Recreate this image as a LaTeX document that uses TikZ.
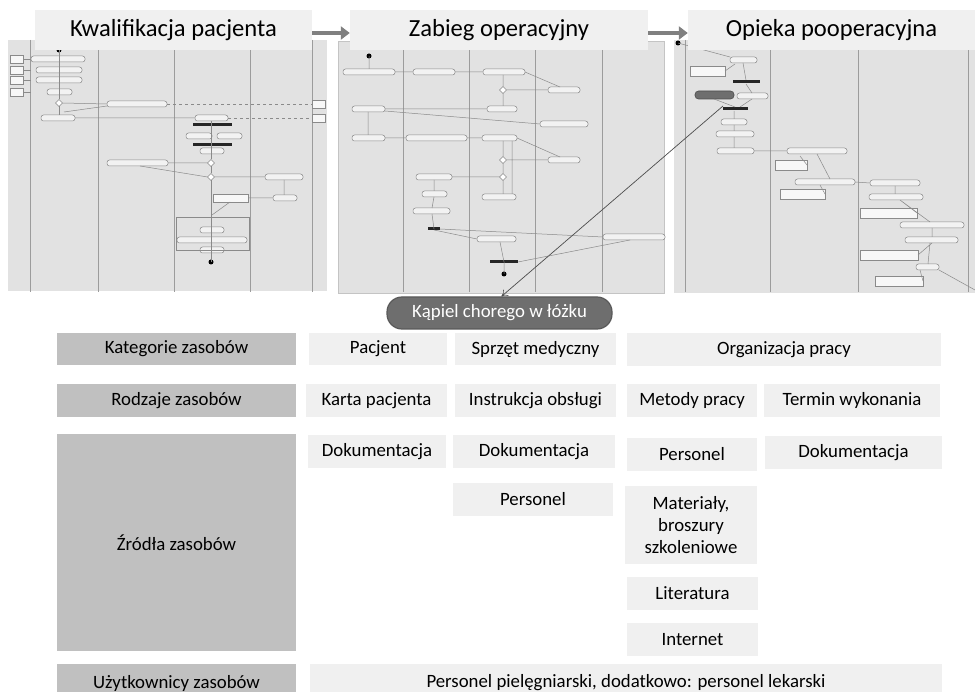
\documentclass[tikz,border=0pt]{standalone}
\usepackage{fontspec}
\setmainfont{Carlito}
\usetikzlibrary{arrows.meta}

\definecolor{hdrgray}{HTML}{C0C0C0}
\definecolor{cellgray}{HTML}{F0F0F0}
\definecolor{shotbg}{HTML}{E2E2E2}
\definecolor{lanegray}{HTML}{9C9C9C}
\definecolor{flowgray}{HTML}{8A8A8A}
\definecolor{pillgray}{HTML}{6E6E6E}
\definecolor{arrgray}{HTML}{808080}

\begin{document}
\begin{tikzpicture}[
    x=1pt, y=-1pt,
    every node/.style={font=\fontsize{18.8}{22}\selectfont},
    >=Stealth,
    hdr/.style={fill=hdrgray, inner sep=0pt, align=center},
    cell/.style={fill=cellgray, inner sep=0pt, align=center},
    title/.style={fill=cellgray, inner sep=0pt, minimum height=40pt,
        font=\fontsize{24.6}{28}\selectfont},
    act/.style={draw=flowgray, fill=gray!10, line width=0.5pt, rounded corners=2.5pt},
    note/.style={draw=flowgray, fill=gray!6, line width=0.5pt},
    flow/.style={draw=flowgray, line width=0.5pt},
]
\useasboundingbox (0,0) rectangle (975,692);

% === Screenshot panels (activity diagrams) ===
\fill[shotbg] (8,40) rectangle (327,291);
\fill[shotbg] (338,41) rectangle (664,293);
\fill[shotbg] (674,40) rectangle (975,293);
\draw[lanegray!60, line width=0.4pt] (338,41) rectangle (664,293);

% swimlane separators
\foreach \x in {30,98,174,250,312,403,469,535,602,685,770,858,968}
    \draw[lanegray, line width=0.8pt] (\x,40) -- (\x,292);

% --- Panel 1 ---
\foreach \a/\b/\y in {31/85/59, 36/82/70, 36/82/80, 47/72/92, 41/75/118,
        107/167/104, 195/228/118, 186/212/136, 217/242/136, 200/224/151,
        107/168/163, 265/303/177, 273/297/198, 200/224/230, 177/247/240,
        200/224/250}
    \draw[act] (\a,\y-3) rectangle (\b,\y+3);
\foreach \a/\b/\y in {10/23/59, 10/23/70, 10/23/80, 10/23/92, 312/325/104,
        312/325/118, 213/248/198}
    \draw[note] (\a,\y-4) rectangle (\b,\y+4);
\draw[flow] (176,217) rectangle (249,250);
\foreach \a/\b/\y in {193/232/125, 193/232/145}
    \fill[black!85] (\a,\y-1.5) rectangle (\b,\y+1.5);
\foreach \x/\y in {59/103, 211/163, 211/177}
    \draw[flow, fill=white] (\x,\y-3.5) -- (\x+3.5,\y) -- (\x,\y+3.5) -- (\x-3.5,\y) -- cycle;
\fill (59,50) circle (2.5pt);
\fill (211,262) circle (2.5pt);
\draw[flow] (59,50) -- (59,99.5) (59,106.5) -- (59,115);
\foreach \y in {59,70,80,92} \draw[flow] (23,\y) -- (31,\y);
\draw[flow] (62.5,103) -- (107,104) (75,118) -- (195,118) (64,112) -- (107,106);
\draw[flow, dashed] (167,104) -- (312,104) (228,118) -- (312,118);
\draw[flow] (211,121) -- (211,159.5) (211,166.5) -- (211,173.5) (211,180.5) -- (211,262);
\draw[flow] (168,163) -- (207.5,163) (140,166) -- (207.5,177) (214.5,177) -- (265,177);
\draw[flow] (284,180) -- (284,195) (273,198) -- (248,198) (230,202) -- (212,215);

% --- Panel 2 ---
\foreach \a/\b/\y in {343/395/72, 413/455/72, 483/525/72, 548/580/90, 487/517/109,
        352/385/109, 540/588/124, 352/385/138, 406/467/138, 482/517/138,
        548/580/160, 416/452/177, 422/447/194, 482/516/197, 413/450/211,
        477/516/239, 603/665/237}
    \draw[act] (\a,\y-3) rectangle (\b,\y+3);
\foreach \a/\b/\y in {428/440/229, 490/518/262}
    \fill[black!85] (\a,\y-1.5) rectangle (\b,\y+1.5);
\foreach \x/\y in {503/90, 503/160, 503/177}
    \draw[flow, fill=white] (\x,\y-3.5) -- (\x+3.5,\y) -- (\x,\y+3.5) -- (\x-3.5,\y) -- cycle;
\fill (369,56) circle (2.5pt);
\fill (504,274) circle (2.5pt);
\draw[flow] (369,56) -- (369,69) (395,72) -- (413,72) (455,72) -- (483,72)
    (503,75) -- (503,86.5) (506.5,90) -- (548,90) (525,72) -- (560,87)
    (503,93.5) -- (503,106) (487,109) -- (385,109) (368,112) -- (368,135)
    (385,111) -- (540,124) (385,138) -- (406,138) (467,138) -- (482,138)
    (503,141) -- (503,156.5) (506.5,160) -- (548,160) (517,138) -- (560,157)
    (499.5,177) -- (452,177) (503,163.5) -- (503,173.5) (434,180) -- (434,191)
    (434,197) -- (432,208) (432,214) -- (434,229) (503,180.5) -- (503,194)
    (512,194) -- (512,141) (434,230) -- (477,239) (440,229) -- (603,237)
    (500,242) -- (504,262) (630,240) -- (518,262) (504,262) -- (504,274);

% --- Panel 3 ---
\foreach \a/\b/\y in {730/757/60, 737/768/96, 721/747/122, 716/754/134, 717/754/151,
        787/847/151, 795/855/182, 870/920/183, 869/923/197, 900/964/225,
        905/958/240, 916/939/267}
    \draw[act] (\a,\y-3) rectangle (\b,\y+3);
\foreach \a/\b/\y in {690/725/71, 775/807/165, 780/825/194, 860/917/213,
        860/918/255, 875/923/281}
    \draw[note] (\a,\y-5) rectangle (\b,\y+5);
\foreach \a/\b/\y in {733/760/82, 723/748/109}
    \fill[black!85] (\a,\y-1.5) rectangle (\b,\y+1.5);
\draw[fill=pillgray, draw=black!70, line width=0.6pt, rounded corners=3.5pt]
    (695,91) rectangle (734,99);
\fill (678,43) circle (2.5pt);
\draw[flow] (678,43) -- (730,57) (743,63) -- (746,80) (725,71) -- (735,64)
    (746,84) -- (752,93) (714,99) -- (735,107) (752,99) -- (740,107)
    (734,111) -- (734,119) (734,125) -- (734,131) (734,137) -- (734,148)
    (754,151) -- (787,151) (817,154) -- (830,179) (807,165) -- (800,156)
    (855,182) -- (870,183) (825,194) -- (820,185) (895,186) -- (895,194)
    (900,200) -- (930,222) (917,213) -- (900,200) (932,228) -- (932,237)
    (918,255) -- (932,243) (930,243) -- (928,264) (939,270) -- (975,290)
    (923,281) -- (920,270);

% === Stage titles ===
\node[title, minimum width=277pt] (kwal) at (173.5,30) {Kwalifikacja pacjenta};
\node[title, minimum width=298pt] (zabieg) at (499,30) {Zabieg operacyjny};
\node[title, minimum width=287pt] (opieka) at (831.5,30) {Opieka pooperacyjna};
\draw[arrgray, line width=4pt, -{Triangle[length=9pt, width=13pt]}]
    ([yshift=-3pt]kwal.east) -- ([yshift=-3pt]zabieg.west);
\draw[arrgray, line width=4pt, -{Triangle[length=9pt, width=13pt]}]
    ([yshift=-3pt]zabieg.east) -- ([yshift=-3pt]opieka.west);

% === Selected activity ===
\node[fill=pillgray, draw=black!65, line width=1.2pt, rounded corners=15pt,
    minimum width=225pt, minimum height=32pt, inner sep=0pt, text=white]
    (kapiel) at (499.5,313) {Kąpiel chorego w łóżku};
\coordinate (kapsrc) at (723,106);
\draw[black!70, line width=0.7pt, -{To[length=6pt, width=8pt]}]
    (kapsrc) -- ([xshift=2pt]kapiel.north);

% === Resource table ===
% row 1
\node[hdr, minimum width=239pt, minimum height=32pt] (katH) at (176.5,349) {Kategorie zasobów};
\node[cell, minimum width=138pt, minimum height=32pt] (katPac) at (378,349) {Pacjent};
\node[cell, minimum width=161pt, minimum height=32pt] (katSprz) at (535.5,349) {Sprzęt medyczny};
\node[cell, minimum width=314pt, minimum height=33pt] (katOrg) at (784,349.5) {Organizacja pracy};
% row 2
\node[hdr, minimum width=239pt, minimum height=33pt] (rodzH) at (176.5,400.5) {Rodzaje zasobów};
\node[cell, minimum width=141pt, minimum height=33pt] (rodzKarta) at (376.5,400.5) {Karta pacjenta};
\node[cell, minimum width=161pt, minimum height=33pt] (rodzInstr) at (535.5,400.5) {Instrukcja obsługi};
\node[cell, minimum width=130pt, minimum height=33pt] (rodzMet) at (692,400.5) {Metody pracy};
\node[cell, minimum width=176pt, minimum height=33pt] (rodzTerm) at (852,400.5) {Termin wykonania};
% row 3
\node[hdr, minimum width=239pt, minimum height=217pt] (zrH) at (176.5,542.5) {Źródła zasobów};
\node[cell, minimum width=138pt, minimum height=33pt] (zrDok1) at (377,451.5) {Dokumentacja};
\node[cell, minimum width=162pt, minimum height=33pt] (zrDok2) at (534,451.5) {Dokumentacja};
\node[cell, minimum width=160pt, minimum height=33pt] (zrPers2) at (533,499.5) {Personel};
\node[cell, minimum width=130pt, minimum height=33pt] (zrPers3) at (692,454.5) {Personel};
\node[cell, minimum width=177pt, minimum height=33pt] (zrDok4) at (853.5,452.5) {Dokumentacja};
\node[cell, minimum width=132pt, minimum height=78pt] (zrMat) at (691,525) {Materiały,\\broszury\\szkoleniowe};
\node[cell, minimum width=131pt, minimum height=33pt] (zrLit) at (692.5,593.5) {Literatura};
\node[cell, minimum width=131pt, minimum height=33pt] (zrInt) at (692.5,639.5) {Internet};
% row 4
\node[hdr, minimum width=239pt, minimum height=38pt] (uzH) at (176.5,683) {Użytkownicy zasobów};
\node[cell, minimum width=632pt, minimum height=38pt] (uzPers) at (626,683) {Personel pielęgniarski, dodatkowo: personel lekarski};

\end{tikzpicture}
\end{document}
